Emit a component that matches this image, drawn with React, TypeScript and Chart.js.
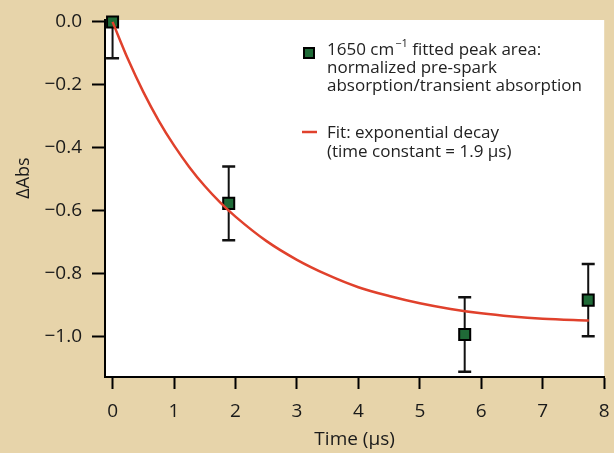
import React, { useEffect, useRef } from "react";
import { Chart, registerables } from "chart.js";

Chart.register(...registerables);

// ---- data ----
const pointTimes = [0, 1.89, 5.73, 7.74];
const pointValues = [0, -0.576, -0.992, -0.883];
const pointErrors = [0.115, 0.117, 0.118, 0.115];

const fitTimes = [0, 0.25, 0.5, 0.75, 1, 1.25, 1.5, 1.75, 2, 2.5, 3, 3.5, 4, 4.5, 5, 5.5, 6, 6.5, 7, 7.75];
const fitValues = [0, -0.118, -0.222, -0.313, -0.392, -0.461, -0.521, -0.573, -0.618, -0.695, -0.755, -0.803, -0.842, -0.87, -0.893, -0.911, -0.925, -0.935, -0.942, -0.948];

const xTickValues = [0, 1, 2, 3, 4, 5, 6, 7, 8];
const yTickValues = [0, -0.2, -0.4, -0.6, -0.8, -1.0];

const xTitle = "Time (µs)";
const yTitle = "ΔAbs";
const legendPointLine1 = ["1650 cm", "−1", " fitted peak area:"];
const legendPointLines = ["normalized pre-spark", "absorption/transient absorption"];
const legendFitLines = ["Fit: exponential decay", "(time constant = 1.9 µs)"];

const FONT = "'Open Sans', 'DejaVu Sans', sans-serif";
const GREEN = "#1f6a37";
const RED = "#e0412c";
const BG = "#e7d4aa";

const bgPlugin = {
  id: "bg",
  beforeDraw(chart: any) {
    const { ctx, width, height, chartArea } = chart;
    ctx.save();
    ctx.fillStyle = BG;
    ctx.fillRect(0, 0, width, height);
    ctx.fillStyle = "#ffffff";
    ctx.fillRect(chartArea.left, chartArea.top, chartArea.right - chartArea.left, chartArea.bottom - chartArea.top);
    ctx.restore();
  },
};

const errorBarPlugin = {
  id: "errbars",
  beforeDatasetsDraw(chart: any) {
    const { ctx, chartArea, scales } = chart;
    const xs = scales.x;
    const ys = scales.y;
    ctx.save();
    ctx.beginPath();
    ctx.rect(chartArea.left, chartArea.top, chartArea.right - chartArea.left, chartArea.bottom - chartArea.top);
    ctx.clip();
    ctx.strokeStyle = "#111";
    for (let i = 0; i < pointTimes.length; i++) {
      const px = xs.getPixelForValue(pointTimes[i]);
      const yTop = ys.getPixelForValue(pointValues[i] + pointErrors[i]);
      const yBot = ys.getPixelForValue(pointValues[i] - pointErrors[i]);
      ctx.lineWidth = 2;
      ctx.beginPath();
      ctx.moveTo(px, yTop);
      ctx.lineTo(px, yBot);
      ctx.stroke();
      ctx.lineWidth = 2.5;
      ctx.beginPath();
      ctx.moveTo(px - 6.5, yTop);
      ctx.lineTo(px + 6.5, yTop);
      ctx.moveTo(px - 6.5, yBot);
      ctx.lineTo(px + 6.5, yBot);
      ctx.stroke();
    }
    ctx.restore();
  },
};

const annotPlugin = {
  id: "annot",
  afterDraw(chart: any) {
    const { ctx } = chart;
    ctx.save();
    // y title
    ctx.fillStyle = "#1a1a1a";
    ctx.font = `18px ${FONT}`;
    ctx.textAlign = "center";
    ctx.textBaseline = "middle";
    ctx.translate(24, 178);
    ctx.rotate(-Math.PI / 2);
    ctx.fillText(yTitle, 0, 0);
    ctx.restore();

    ctx.save();
    // legend: point marker
    ctx.fillStyle = GREEN;
    ctx.strokeStyle = "#000";
    ctx.lineWidth = 2;
    ctx.fillRect(304, 48, 10, 10);
    ctx.strokeRect(304, 48, 10, 10);
    ctx.fillStyle = "#222";
    ctx.textAlign = "left";
    ctx.textBaseline = "alphabetic";
    ctx.font = `17px ${FONT}`;
    let x = 327;
    ctx.fillText(legendPointLine1[0], x, 55);
    x += ctx.measureText(legendPointLine1[0]).width + 1;
    ctx.font = `11px ${FONT}`;
    ctx.fillText(legendPointLine1[1], x, 47);
    x += ctx.measureText(legendPointLine1[1]).width;
    ctx.font = `17px ${FONT}`;
    ctx.fillText(legendPointLine1[2], x, 55);
    legendPointLines.forEach((s, i) => ctx.fillText(s, 327, 73 + i * 18));
    // legend: fit line
    ctx.strokeStyle = RED;
    ctx.lineWidth = 2.5;
    ctx.beginPath();
    ctx.moveTo(302, 132);
    ctx.lineTo(317, 132);
    ctx.stroke();
    legendFitLines.forEach((s, i) => ctx.fillText(s, 327, 138 + i * 18.5));
    ctx.restore();
  },
};

export default function App() {
  const ref = useRef<HTMLCanvasElement | null>(null);
  useEffect(() => {
    document.body.style.margin = "0";
    document.body.style.overflow = "hidden";
    const canvas = ref.current!;
    const chart = new Chart(canvas, {
      type: "scatter",
      data: {
        datasets: [
          {
            label: "fit",
            data: fitTimes.map((t, i) => ({ x: t, y: fitValues[i] })),
            showLine: true,
            borderColor: RED,
            borderWidth: 2.5,
            pointRadius: 0,
            cubicInterpolationMode: "monotone",
            clip: 4,
          } as any,
          {
            label: "points",
            data: pointTimes.map((t, i) => ({ x: t, y: pointValues[i] })),
            pointStyle: "rect",
            pointRadius: 7.8,
            backgroundColor: GREEN,
            borderColor: "#000",
            borderWidth: 2,
            clip: false,
          } as any,
        ],
      },
      options: {
        responsive: false,
        animation: false,
        events: [],
        layout: { padding: { top: 20, right: 7, left: 0, bottom: 0 } },
        plugins: { legend: { display: false }, tooltip: { enabled: false } },
        scales: {
          x: {
            type: "linear",
            min: -0.123,
            max: 8,
            afterBuildTicks: (s: any) => {
              s.ticks = xTickValues.map((v) => ({ value: v }));
            },
            afterFit: (s: any) => {
              s.height = 76;
              s.paddingLeft = 0;
              s.paddingRight = 0;
            },
            border: { display: true, color: "#000", width: 2 },
            grid: { drawOnChartArea: false, drawTicks: true, tickLength: 12, tickColor: "#000", tickWidth: 2 },
            ticks: {
              color: "#1a1a1a",
              font: { family: FONT, size: 19 },
              padding: 11,
              maxRotation: 0,
              callback: (v: any) => String(v),
            },
            title: {
              display: true,
              text: xTitle,
              color: "#1a1a1a",
              font: { family: FONT, size: 19 },
              padding: { top: 0, bottom: 2 },
            },
          },
          y: {
            type: "linear",
            min: -1.127,
            max: 0.006,
            afterBuildTicks: (s: any) => {
              s.ticks = yTickValues.map((v) => ({ value: v }));
            },
            afterFit: (s: any) => {
              s.width = 105;
              s.paddingTop = 0;
              s.paddingBottom = 0;
            },
            border: { display: true, color: "#000", width: 2 },
            grid: { drawOnChartArea: false, drawTicks: true, tickLength: 13, tickColor: "#000", tickWidth: 2 },
            ticks: {
              color: "#1a1a1a",
              font: { family: FONT, size: 19 },
              padding: 10,
              callback: (v: any) => {
                const n = Number(v);
                if (Math.abs(n) < 1e-9) return "0.0";
                return (n < 0 ? "−" : "") + Math.abs(n).toFixed(1);
              },
            },
          },
        },
      },
      plugins: [bgPlugin, errorBarPlugin, annotPlugin],
    });
    return () => chart.destroy();
  }, []);
  return (
    <div style={{ width: 614, height: 453 }}>
      <canvas ref={ref} width={614} height={453} style={{ display: "block", width: 614, height: 453 }} />
    </div>
  );
}
